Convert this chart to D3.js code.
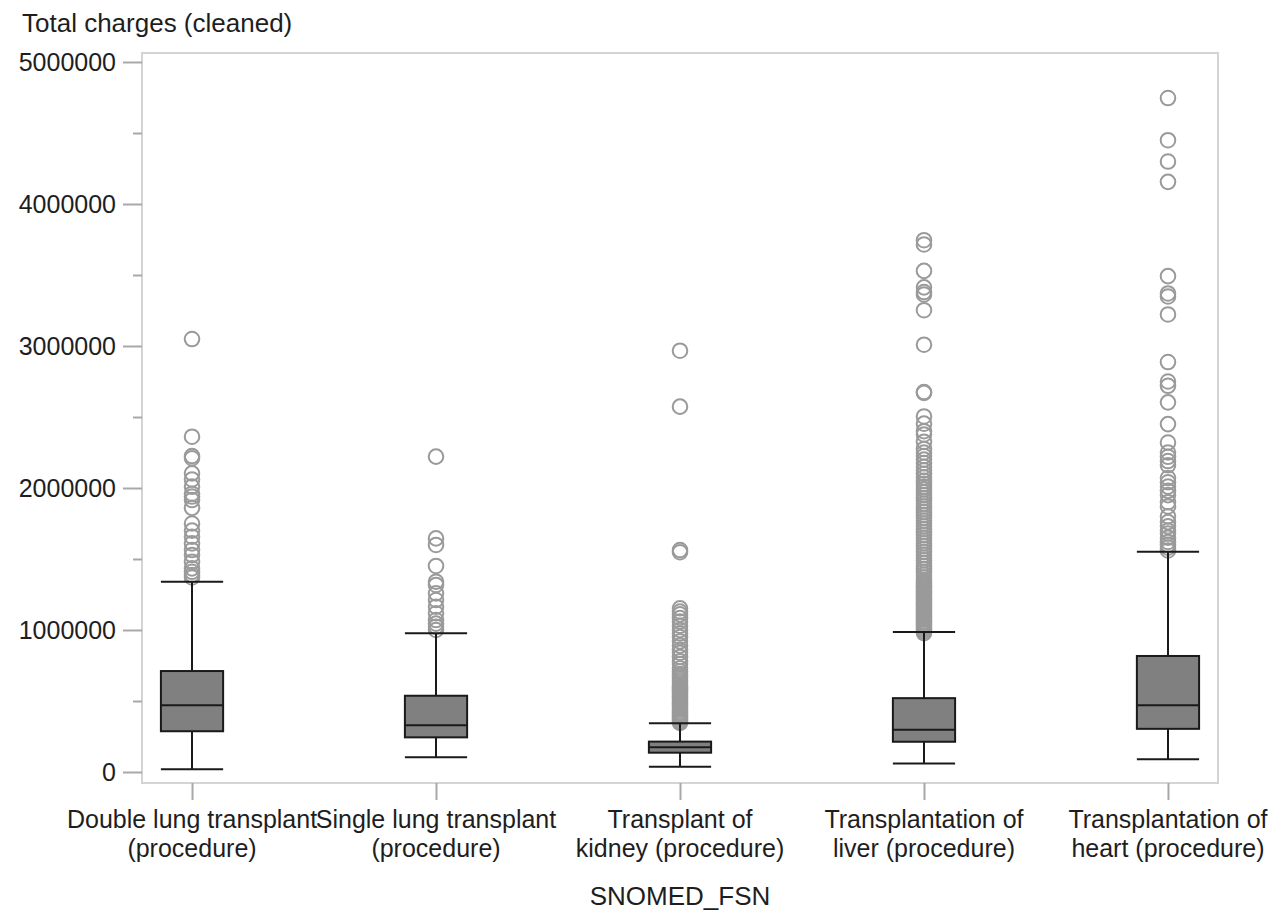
<!DOCTYPE html>
<html>
<head>
<meta charset="utf-8">
<script src="https://cdn.jsdelivr.net/npm/d3@7"></script>
<style>
  html, body { margin: 0; padding: 0; background: #fff; }
  svg { display: block; font-family: "Liberation Sans", Arial, sans-serif; }
</style>
</head>
<body>
<svg id="chart" width="1274" height="914"></svg>
<script>
// Box plot of total charges by transplant procedure

const categoryLines = [
  ["Double lung transplant", "(procedure)"],
  ["Single lung transplant", "(procedure)"],
  ["Transplant of", "kidney (procedure)"],
  ["Transplantation of", "liver (procedure)"],
  ["Transplantation of", "heart (procedure)"]
];
const categories = categoryLines.map(l => l.join(" "));

const whiskerLow  = [20000, 103000, 37000, 59000, 90000];
const q1          = [287000, 244000, 136000, 213000, 304000];
const median      = [470000, 329000, 174000, 297000, 470000];
const q3          = [711000, 537000, 214000, 520000, 817000];
const whiskerHigh = [1340000, 977000, 343000, 986000, 1551000];

const outliersDoubleLung = [
  3049000, 2361000, 2225000, 2210000, 2103000, 2060000, 2010000, 1960000,
  1940000, 1915000, 1860000, 1750000, 1700000, 1657000, 1610000, 1563000,
  1528000, 1480000, 1434000, 1410000, 1387000, 1370000
];
const outliersSingleLung = [
  2221000, 1645000, 1599000, 1451000, 1340000, 1317000, 1258000, 1211000,
  1164000, 1118000, 1070000, 1045000, 1023000, 1000000
];
const outliersKidney = [
  2967000, 2573000, 1563000, 1548000,
  1153000, 1130000, 1110000, 1085000, 1060000, 1030000, 1000000, 975000,
  950000, 920000, 890000, 860000, 840000, 810000, 780000, 760000, 730000,
  710000, 690000, 675000, 660000, 645000, 630000, 615000, 600000, 590000,
  578000, 565000, 553000, 540000, 528000, 515000, 503000, 490000, 478000,
  465000, 453000, 440000, 428000, 415000, 403000, 392000, 380000, 368000,
  357000, 346000
];
const outliersLiver = [
  3745000, 3715000, 3529000, 3413000, 3380000, 3363000, 3252000, 3009000,
  2676000, 2670000, 2504000, 2453000, 2400000, 2377000, 2325000,
  2275000, 2250000, 2225000, 2200000, 2175000, 2150000, 2125000, 2100000,
  2075000, 2050000, 2030000, 2010000, 1990000, 1970000, 1950000, 1930000,
  1910000, 1890000, 1870000, 1850000, 1830000, 1810000, 1790000, 1770000,
  1750000, 1730000, 1710000, 1690000, 1670000, 1650000, 1630000, 1610000,
  1590000, 1570000, 1550000, 1530000, 1510000, 1490000, 1470000, 1450000,
  1430000, 1410000, 1390000, 1370000, 1350000, 1338000, 1326000, 1314000,
  1302000, 1290000, 1278000, 1266000, 1254000, 1242000, 1230000, 1218000,
  1206000, 1194000, 1182000, 1170000, 1158000, 1146000, 1134000, 1122000,
  1110000, 1098000, 1086000, 1074000, 1062000, 1050000, 1038000, 1026000,
  1014000, 1002000, 990000, 978000
];
const outliersHeart = [
  4746000, 4449000, 4299000, 4156000, 3492000, 3370000, 3349000, 3222000,
  2887000, 2750000, 2720000, 2603000, 2450000, 2320000, 2250000, 2220000,
  2190000, 2160000, 2070000, 2040000, 2010000, 1980000, 1950000, 1900000,
  1870000, 1800000, 1760000, 1730000, 1700000, 1680000, 1650000, 1620000,
  1600000, 1580000, 1560000
];
const outliers = [outliersDoubleLung, outliersSingleLung, outliersKidney, outliersLiver, outliersHeart];

const yMajorTicks = [0, 1000000, 2000000, 3000000, 4000000, 5000000];
const yMinorTicks = [500000, 1500000, 2500000, 3500000, 4500000];

const yTitle = "Total charges (cleaned)";
const xTitle = "SNOMED_FSN";

// Layout
const plot = { left: 142, right: 1218, top: 53, bottom: 783 };
const textColor = "#1e1e1e";
const axisGray = "#a8a8a8";

const svg = d3.select("#chart");

const x = d3.scalePoint()
  .domain(categories)
  .range([plot.left, plot.right])
  .padding(0.205);

const y = d3.scaleLinear()
  .domain([0, 5000000])
  .range([772, 62]);

const boxW = x.step() * 0.255;

// Plot frame
svg.append("rect")
  .attr("x", plot.left).attr("y", plot.top)
  .attr("width", plot.right - plot.left)
  .attr("height", plot.bottom - plot.top)
  .attr("fill", "none")
  .attr("stroke", "#d4d4d4")
  .attr("stroke-width", 2);

// Y axis: major ticks with labels, minor ticks without
const yAxis = d3.axisLeft(y)
  .tickValues(yMajorTicks)
  .tickFormat(d3.format("d"))
  .tickSize(19)
  .tickPadding(7);

const gy = svg.append("g")
  .attr("transform", `translate(${plot.left},0)`)
  .call(yAxis);
gy.select(".domain").remove();
gy.selectAll(".tick line").attr("stroke", axisGray).attr("stroke-width", 2);
gy.selectAll(".tick text")
  .attr("fill", textColor)
  .style("font-size", "25px")
  .style("font-family", "'Liberation Sans', Arial, sans-serif");

const yMinor = d3.axisLeft(y).tickValues(yMinorTicks).tickFormat("").tickSize(9);
const gyMinor = svg.append("g")
  .attr("transform", `translate(${plot.left},0)`)
  .call(yMinor);
gyMinor.select(".domain").remove();
gyMinor.selectAll(".tick line").attr("stroke", axisGray).attr("stroke-width", 2);

// X axis ticks
const xAxis = d3.axisBottom(x).tickSize(17).tickFormat("");
const gx = svg.append("g")
  .attr("transform", `translate(0,${plot.bottom})`)
  .call(xAxis);
gx.select(".domain").remove();
gx.selectAll(".tick line").attr("stroke", axisGray).attr("stroke-width", 2);

// Category labels (two lines each)
const labels = svg.append("g").attr("fill", textColor)
  .style("font-size", "25px");
categoryLines.forEach((lines, i) => {
  const t = labels.append("text")
    .attr("text-anchor", "middle")
    .attr("x", x(categories[i]))
    .attr("y", 828);
  lines.forEach((ln, j) => {
    t.append("tspan")
      .attr("x", x(categories[i]))
      .attr("dy", j === 0 ? 0 : 29)
      .text(ln);
  });
});

// Axis titles
svg.append("text")
  .attr("x", 22).attr("y", 32)
  .attr("fill", textColor)
  .style("font-size", "26px")
  .text(yTitle);

svg.append("text")
  .attr("x", (plot.left + plot.right) / 2).attr("y", 905)
  .attr("text-anchor", "middle")
  .attr("fill", textColor)
  .style("font-size", "26px")
  .text(xTitle);

// Boxes
const stats = categories.map((c, i) => ({
  cat: c,
  lo: whiskerLow[i], q1: q1[i], med: median[i], q3: q3[i], hi: whiskerHigh[i],
  out: outliers[i]
}));

const boxStroke = "#1a1a1a";
const g = svg.selectAll("g.box").data(stats).join("g").attr("class", "box");

// outlier circles
g.each(function(d) {
  d3.select(this).selectAll("circle")
    .data(d.out)
    .join("circle")
    .attr("cx", x(d.cat))
    .attr("cy", v => y(v))
    .attr("r", 7.3)
    .attr("fill", "none")
    .attr("stroke", "#9a9a9a")
    .attr("stroke-width", 2);
});

// whisker stems
g.append("line")
  .attr("x1", d => x(d.cat)).attr("x2", d => x(d.cat))
  .attr("y1", d => y(d.hi)).attr("y2", d => y(d.q3))
  .attr("stroke", boxStroke).attr("stroke-width", 2);
g.append("line")
  .attr("x1", d => x(d.cat)).attr("x2", d => x(d.cat))
  .attr("y1", d => y(d.q1)).attr("y2", d => y(d.lo))
  .attr("stroke", boxStroke).attr("stroke-width", 2);

// whisker caps
["hi", "lo"].forEach(k => {
  g.append("line")
    .attr("x1", d => x(d.cat) - boxW / 2).attr("x2", d => x(d.cat) + boxW / 2)
    .attr("y1", d => y(d[k])).attr("y2", d => y(d[k]))
    .attr("stroke", boxStroke).attr("stroke-width", 2);
});

// interquartile box
g.append("rect")
  .attr("x", d => x(d.cat) - boxW / 2)
  .attr("width", boxW)
  .attr("y", d => y(d.q3))
  .attr("height", d => y(d.q1) - y(d.q3))
  .attr("fill", "#808080")
  .attr("stroke", boxStroke)
  .attr("stroke-width", 2);

// median
g.append("line")
  .attr("x1", d => x(d.cat) - boxW / 2).attr("x2", d => x(d.cat) + boxW / 2)
  .attr("y1", d => y(d.med)).attr("y2", d => y(d.med))
  .attr("stroke", boxStroke).attr("stroke-width", 2);
</script>
</body>
</html>
